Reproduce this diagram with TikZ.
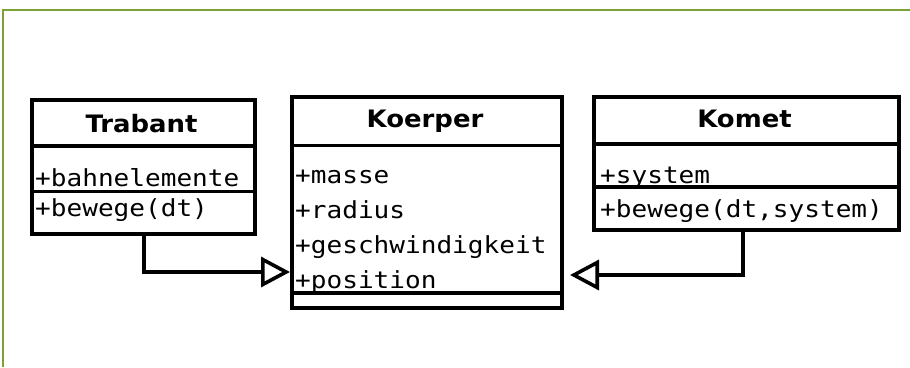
\documentclass[tikz,border=0pt]{standalone}
\usepackage{fontspec}
\newfontfamily\umlmono{DejaVu Sans Mono}[FakeStretch=1.11]
\newfontfamily\umlhead{DejaVu Sans}[FakeStretch=1.08]
\usetikzlibrary{arrows.meta}
\definecolor{framegreen}{RGB}{122,162,52}
\begin{document}
\begin{tikzpicture}[x=1pt,y=-1pt,
  cls/.style={draw=black,line width=3.8pt,inner sep=0pt,anchor=north west,fill=white},
  sep/.style={line width=3.5pt},
  head/.style={font=\umlhead\bfseries\fontsize{24}{26}\selectfont,inner sep=0pt},
  attr/.style={font=\umlmono\fontsize{23.5}{28}\selectfont,inner sep=0pt,anchor=base west},
  inh/.style={line width=3.6pt,-{Triangle[open,length=29pt,width=30pt,line width=3.6pt]}}]
\useasboundingbox (0,0) rectangle (910,367);
\fill[white] (0,0) rectangle (910,367);
\draw[framegreen,line width=2.2pt] (3,367) -- (3,10) -- (910,10);
% Trabant
\node[cls,minimum width=223pt,minimum height=134pt] (trab) at (30,98) {};
\draw[sep] (30,146) -- (253,146);
\draw[sep] (30,191.5) -- (253,191.5);
\node[head] (trabH) at (141.5,124) {Trabant};
\node[attr] (trabA) at (35,186) {+bahnelemente};
\node[attr] (trabM) at (35,216) {+bewege(dt)};
% Koerper
\node[cls,minimum width=270pt,minimum height=211pt] (koer) at (290,95) {};
\draw[sep] (290,145.5) -- (560,145.5);
\draw[sep] (290,293) -- (560,293);
\node[head] (koerH) at (425,121) {Koerper};
\node[attr] (k1) at (295,183) {+masse};
\node[attr] (k2) at (295,218) {+radius};
\node[attr] (k3) at (295,253) {+geschwindigkeit};
\node[attr] (k4) at (295,288) {+position};
% Komet
\node[cls,minimum width=305pt,minimum height=133pt] (kom) at (592,95) {};
\draw[sep] (592,144) -- (897,144);
\draw[sep] (592,187) -- (897,187);
\node[head] (komH) at (744.5,119) {Komet};
\node[attr] (komA) at (600,183) {+system};
\node[attr] (komM) at (600,217) {+bewege(dt,system)};
% inheritance
\coordinate (kTip) at (570,275);
\draw[inh] (trab.south -| 144,0) |- (koer.west |- 0,272);
\draw[inh] (kom.south -| 743,0) |- (kTip);
\end{tikzpicture}
\end{document}
